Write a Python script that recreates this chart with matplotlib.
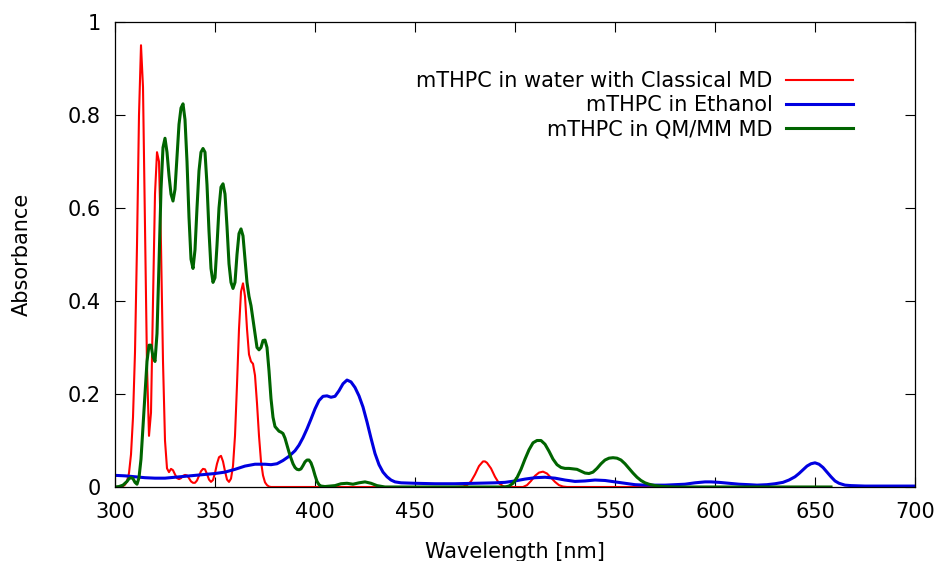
import numpy as np
import matplotlib
matplotlib.use("Agg")
import matplotlib.pyplot as plt

# spectra (wavelength in nm, absorbance)
water_wl = [300, 301, 302, 303, 304, 305, 306, 307, 308, 309, 310, 311, 312, 313, 314,
            315, 316, 317, 318, 319, 320, 321, 322, 323, 324, 325, 326, 327, 328, 329,
            330, 331, 332, 333, 334, 335, 336, 337, 338, 339, 340, 341, 342, 343, 344,
            345, 346, 347, 348, 349, 350, 351, 352, 353, 354, 355, 356, 357, 358, 359,
            360, 361, 362, 363, 364, 365, 366, 367, 368, 369, 370, 371, 372, 373, 374,
            375, 376, 377, 378, 380, 470, 474, 476, 478, 480, 482, 484, 485, 486, 488,
            490, 492, 494, 496, 504, 506, 508, 510, 512, 514, 516, 518, 520, 522, 524,
            526, 658]
water_abs = [0.000, 0.000, 0.000, 0.001, 0.002, 0.005, 0.012, 0.030, 0.070, 0.150, 0.290,
             0.520, 0.800, 0.950, 0.860, 0.560, 0.260, 0.110, 0.160, 0.400, 0.630, 0.720,
             0.700, 0.520, 0.270, 0.100, 0.040, 0.032, 0.039, 0.036, 0.027, 0.019, 0.017,
             0.019, 0.024, 0.026, 0.025, 0.019, 0.012, 0.009, 0.009, 0.014, 0.024, 0.034,
             0.039, 0.038, 0.028, 0.016, 0.011, 0.015, 0.030, 0.050, 0.064, 0.067, 0.055,
             0.034, 0.016, 0.011, 0.018, 0.045, 0.110, 0.220, 0.340, 0.420, 0.438, 0.410,
             0.340, 0.285, 0.270, 0.265, 0.240, 0.180, 0.110, 0.055, 0.025, 0.010, 0.004,
             0.001, 0.000, 0.000, 0.000, 0.001, 0.004, 0.012, 0.027, 0.045, 0.055, 0.055,
             0.052, 0.040, 0.022, 0.008, 0.002, 0.000, 0.000, 0.004, 0.013, 0.024, 0.031,
             0.033, 0.029, 0.020, 0.011, 0.004, 0.001, 0.000, 0.000]

ethanol_wl = [300, 305, 310, 315, 320, 325, 330, 335, 340, 345, 350, 355, 360, 365, 370,
              375, 378, 381, 384, 387, 390, 392, 394, 396, 398, 400, 402, 404, 406, 408,
              410, 412, 414, 416, 418, 420, 422, 424, 426, 428, 430, 432, 434, 436, 438,
              440, 443, 450, 460, 470, 480, 490, 495, 500, 505, 510, 515, 520, 525, 530,
              535, 540, 545, 550, 555, 560, 565, 570, 575, 580, 585, 590, 595, 598, 602,
              607, 612, 617, 621, 626, 630, 634, 637, 640, 642, 644, 646, 648, 650, 652,
              654, 656, 658, 660, 662, 665, 668, 675, 700]
ethanol_abs = [0.025, 0.024, 0.022, 0.020, 0.019, 0.019, 0.021, 0.023, 0.025, 0.027, 0.029,
               0.032, 0.038, 0.045, 0.049, 0.049, 0.048, 0.050, 0.057, 0.066, 0.078, 0.090,
               0.106, 0.125, 0.146, 0.168, 0.186, 0.195, 0.196, 0.193, 0.195, 0.207, 0.222,
               0.230, 0.226, 0.214, 0.196, 0.172, 0.140, 0.105, 0.072, 0.048, 0.032, 0.022,
               0.015, 0.011, 0.009, 0.008, 0.007, 0.007, 0.008, 0.009, 0.010, 0.013, 0.017,
               0.020, 0.021, 0.019, 0.015, 0.012, 0.013, 0.015, 0.014, 0.011, 0.008, 0.005,
               0.004, 0.004, 0.004, 0.005, 0.006, 0.009, 0.011, 0.011, 0.010, 0.008, 0.006,
               0.005, 0.004, 0.005, 0.007, 0.010, 0.015, 0.022, 0.029, 0.037, 0.045, 0.050,
               0.052, 0.049, 0.042, 0.032, 0.022, 0.013, 0.008, 0.004, 0.003, 0.002, 0.002]

qmmm_wl = [300, 302, 304, 306, 307, 308, 309, 310, 311, 312, 313, 314, 315, 316, 317,
           318, 319, 320, 321, 322, 323, 324, 325, 326, 327, 328, 329, 330, 331, 332,
           333, 334, 335, 336, 337, 338, 339, 340, 341, 342, 343, 344, 345, 346, 347,
           348, 349, 350, 351, 352, 353, 354, 355, 356, 357, 358, 359, 360, 361, 362,
           363, 364, 365, 366, 367, 368, 369, 370, 371, 372, 373, 374, 375, 376, 377,
           378, 379, 380, 381, 382, 383, 384, 385, 386, 387, 388, 389, 390, 391, 392,
           393, 394, 395, 396, 397, 398, 399, 400, 401, 402, 403, 405, 410, 413, 416,
           419, 422, 425, 428, 431, 435, 495, 497, 499, 501, 503, 505, 507, 509, 511,
           513, 515, 517, 519, 521, 523, 525, 527, 529, 531, 533, 535, 537, 539, 541,
           543, 545, 547, 549, 551, 553, 555, 557, 559, 561, 563, 565, 567, 570, 574,
           580, 658]
qmmm_abs = [0.000, 0.001, 0.004, 0.012, 0.018, 0.020, 0.018, 0.010, 0.006, 0.020, 0.060,
            0.130, 0.200, 0.270, 0.305, 0.305, 0.280, 0.270, 0.330, 0.480, 0.640, 0.730,
            0.750, 0.720, 0.670, 0.630, 0.615, 0.640, 0.710, 0.780, 0.815, 0.824, 0.790,
            0.700, 0.580, 0.490, 0.470, 0.510, 0.600, 0.680, 0.720, 0.728, 0.720, 0.650,
            0.550, 0.470, 0.440, 0.450, 0.520, 0.600, 0.645, 0.652, 0.630, 0.560, 0.480,
            0.440, 0.427, 0.440, 0.500, 0.545, 0.555, 0.540, 0.490, 0.440, 0.410, 0.390,
            0.360, 0.330, 0.300, 0.295, 0.300, 0.315, 0.316, 0.300, 0.250, 0.190, 0.150,
            0.130, 0.125, 0.120, 0.118, 0.115, 0.105, 0.090, 0.075, 0.062, 0.050, 0.042,
            0.038, 0.037, 0.039, 0.046, 0.054, 0.058, 0.058, 0.052, 0.040, 0.025, 0.012,
            0.005, 0.002, 0.001, 0.003, 0.007, 0.008, 0.006, 0.009, 0.011, 0.008, 0.003,
            0.000, 0.000, 0.002, 0.008, 0.020, 0.038, 0.060, 0.080, 0.095, 0.100, 0.100,
            0.092, 0.077, 0.060, 0.048, 0.042, 0.040, 0.040, 0.039, 0.038, 0.034, 0.030,
            0.029, 0.032, 0.040, 0.050, 0.058, 0.062, 0.063, 0.062, 0.058, 0.050, 0.040,
            0.030, 0.021, 0.014, 0.009, 0.006, 0.003, 0.001, 0.000, 0.000]

labels = ["mTHPC in water with Classical MD", "mTHPC in Ethanol", "mTHPC in QM/MM MD"]
x_ticks = [300, 350, 400, 450, 500, 550, 600, 650, 700]
y_ticks = [0, 0.2, 0.4, 0.6, 0.8, 1]
y_ticklabels = ["0", "0.2", "0.4", "0.6", "0.8", "1"]

fig = plt.figure(figsize=(9.41, 5.61), dpi=100)
ax = fig.add_axes([115 / 941, 1 - 487 / 561, 800 / 941, 465 / 561])

ax.plot(water_wl, water_abs, color="#ff0000", lw=1.5, label=labels[0])
ax.plot(ethanol_wl, ethanol_abs, color="#0000e0", lw=2.2, label=labels[1])
ax.plot(qmmm_wl, qmmm_abs, color="#006400", lw=2.2, label=labels[2])

ax.set_xlim(300, 700)
ax.set_ylim(0, 1)
ax.set_xticks(x_ticks)
ax.set_yticks(y_ticks)
ax.set_yticklabels(y_ticklabels)
ax.tick_params(direction="in", length=7, width=0.8, top=True, right=True,
               labelsize=15)
ax.tick_params(axis="x", pad=11)
ax.tick_params(axis="y", pad=10)
for s in ax.spines.values():
    s.set_linewidth(0.9)

ax.set_xlabel("Wavelength [nm]", fontsize=15, labelpad=14)
ax.set_ylabel("Absorbance", fontsize=15, labelpad=26)

ax.legend(loc="upper right", bbox_to_anchor=(0.9225, 0.894), markerfirst=False,
          frameon=False, fontsize=15, handlelength=3.2, handletextpad=0.67,
          labelspacing=0.2, borderpad=0, borderaxespad=0)

fig.savefig("out.png", dpi=100)
